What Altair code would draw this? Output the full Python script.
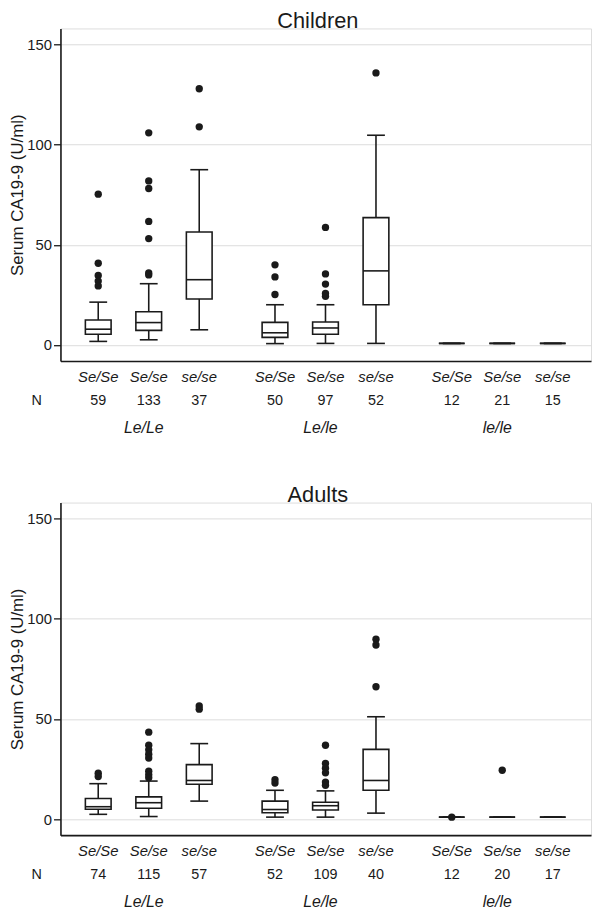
import altair as alt
import pandas as pd

# ---------------- data ----------------
positions = [1, 2, 3, 4.5, 5.5, 6.5, 8, 9, 10]
secretor = ["Se/Se", "Se/se", "se/se"] * 3
lewis_groups = ["Le/Le", "Le/le", "le/le"]
group_pos = [1.9, 5.4, 8.9]

# Children
ch_n = [59, 133, 37, 50, 97, 52, 12, 21, 15]
ch_lo = [1.8, 2.6, 7.6, 0.7, 0.8, 0.8, 0.8, 0.8, 0.8]
ch_q1 = [5.4, 7.3, 23.0, 3.8, 5.4, 20.1, 0.8, 0.8, 0.8]
ch_med = [7.9, 11.2, 32.6, 6.1, 8.5, 37.0, 0.8, 0.8, 0.8]
ch_q3 = [12.5, 16.6, 56.4, 11.3, 11.5, 63.6, 0.8, 0.8, 0.8]
ch_hi = [21.4, 30.6, 87.5, 20.1, 20.1, 104.7, 0.8, 0.8, 0.8]
ch_out = [[75.3, 40.8, 34.7, 31.9, 29.5],
          [105.9, 81.9, 78.1, 61.7, 53.1, 36.0, 35.0],
          [127.9, 108.9],
          [40.0, 34.0, 25.2],
          [58.7, 35.5, 30.4, 25.7, 24.3],
          [135.8],
          [], [], []]

# Adults
ad_n = [74, 115, 57, 52, 109, 40, 12, 20, 17]
ad_lo = [2.4, 1.3, 9.0, 1.0, 1.0, 3.0, 1.0, 1.0, 1.0]
ad_q1 = [4.9, 5.4, 17.4, 3.2, 4.6, 14.4, 1.0, 1.0, 1.0]
ad_med = [6.2, 8.2, 19.3, 4.8, 6.7, 19.3, 1.0, 1.0, 1.0]
ad_q3 = [10.3, 11.1, 27.2, 9.0, 8.4, 34.8, 1.0, 1.0, 1.0]
ad_hi = [17.7, 19.0, 37.7, 14.4, 14.1, 51.1, 1.0, 1.0, 1.0]
ad_out = [[22.9, 21.3],
          [43.4, 36.9, 34.6, 32.4, 30.5, 23.9, 22.1, 20.6],
          [56.5, 54.9],
          [19.7, 18.0],
          [36.9, 27.8, 25.4, 23.1, 18.5, 16.9],
          [89.8, 86.9, 66.1],
          [1.0], [24.4], []]

INK = "#1a1a1a"
FONT = "Liberation Sans"
W, H = 536, 336
XDOM = [0.35, 10.66]
YDOM = [-8, 158]
LW = 1.6


def panel(title, n, lo, q1, med, q3, hi, outs, toff):
    stats = pd.DataFrame({"pos": positions, "sec": secretor, "n": [str(v) for v in n],
                          "lo": lo, "q1": q1, "med": med, "q3": q3, "hi": hi})
    orows = [{"pos": p, "v": v} for p, vals in zip(positions, outs) for v in vals]
    odf = pd.DataFrame(orows)
    gdf = pd.DataFrame({"pos": group_pos, "g": lewis_groups})
    ndf = pd.DataFrame({"pos": [0.35 - 0.57], "t": ["N"]})

    x = alt.X("pos:Q", scale=alt.Scale(domain=XDOM, nice=False, zero=False),
              axis=alt.Axis(labels=False, ticks=False, grid=False, title=None,
                            domainColor=INK, domainWidth=LW))
    y = alt.Y("q1:Q", scale=alt.Scale(domain=YDOM, nice=False, zero=False),
              axis=alt.Axis(values=[0, 50, 100, 150], title="Serum CA19-9 (U/ml)",
                            grid=True, gridColor="#dcdcdc", gridWidth=1,
                            domainColor=INK, domainWidth=LW, tickColor=INK,
                            tickWidth=1.3, tickSize=7, labelPadding=2, labelFontSize=15,
                            labelColor=INK, labelFont=FONT, titleFont=FONT,
                            titleFontSize=17, titleFontWeight="normal",
                            titleColor=INK, titlePadding=0))

    base = alt.Chart(stats)
    whisk_lo = base.mark_rule(color=INK, strokeWidth=LW).encode(x=x, y=alt.Y("lo:Q"), y2="q1:Q")
    whisk_hi = base.mark_rule(color=INK, strokeWidth=LW).encode(x=x, y=alt.Y("q3:Q"), y2="hi:Q")
    box = base.mark_bar(size=26, fill="white", stroke=INK, strokeWidth=LW).encode(
        x=x, y=y, y2="q3:Q")
    medt = base.mark_tick(orient="horizontal", size=26, thickness=LW, color=INK,
                          opacity=1).encode(x=x, y=alt.Y("med:Q"))
    cap_lo = base.mark_tick(orient="horizontal", size=18, thickness=LW, color=INK,
                            opacity=1).encode(x=x, y=alt.Y("lo:Q"))
    cap_hi = base.mark_tick(orient="horizontal", size=18, thickness=LW, color=INK,
                            opacity=1).encode(x=x, y=alt.Y("hi:Q"))
    dots = alt.Chart(odf).mark_circle(size=55, color=INK, opacity=1).encode(
        x=x, y=alt.Y("v:Q"))

    sec_txt = base.mark_text(fontSize=15, fontStyle="italic", font=FONT, color=INK,
                             baseline="middle").encode(
        x=x, y=alt.value(H + 16), text="sec:N")
    n_txt = base.mark_text(fontSize=14.5, font=FONT, color=INK, baseline="middle").encode(
        x=x, y=alt.value(H + 40), text="n:N")
    nlab = alt.Chart(ndf).mark_text(fontSize=14.5, font=FONT, color=INK,
                                    baseline="middle").encode(
        x=x, y=alt.value(H + 40), text="t:N")
    g_txt = alt.Chart(gdf).mark_text(fontSize=16, fontStyle="italic", font=FONT, color=INK,
                                     baseline="middle").encode(
        x=x, y=alt.value(H + 68), text="g:N")

    return alt.layer(box, whisk_lo, whisk_hi, medt, cap_lo, cap_hi, dots,
                     sec_txt, n_txt, nlab, g_txt).properties(
        width=W, height=H,
        title=alt.TitleParams(title, fontSize=22, font=FONT, fontWeight="normal",
                              color=INK, anchor="middle", offset=toff, dx=-8))


top = panel("Children", ch_n, ch_lo, ch_q1, ch_med, ch_q3, ch_hi, ch_out, -5)
bottom = panel("Adults", ad_n, ad_lo, ad_q1, ad_med, ad_q3, ad_hi, ad_out, -4)

chart = alt.vconcat(top, bottom, spacing=46).properties(
    padding={"left": 0, "top": -3, "right": 0, "bottom": 0}
).configure_view(stroke=None).configure(background="white")

chart.save("out.html", embed_options={"renderer": "svg", "actions": False})
